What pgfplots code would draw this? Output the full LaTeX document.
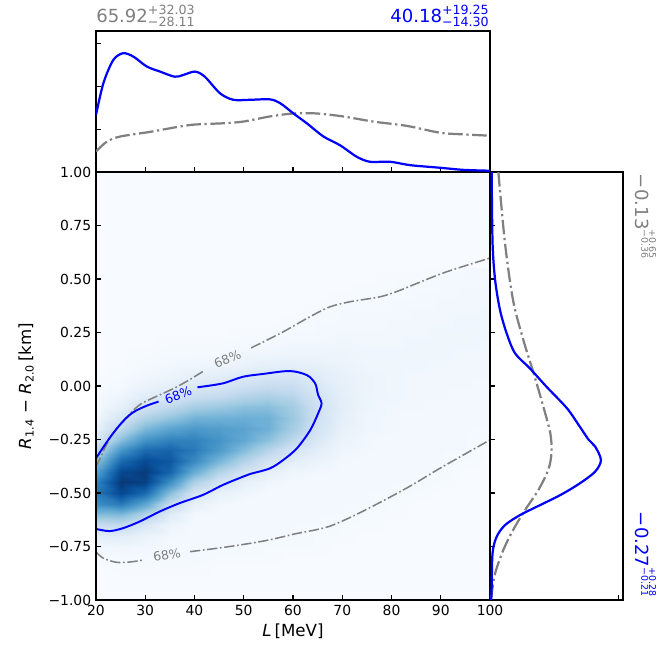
\documentclass[border=0pt]{standalone}
\usepackage{fontspec}
\setmainfont{DejaVu Sans}
\usepackage{pgfplots}
\pgfplotsset{compat=1.18}
\definecolor{mblue}{rgb}{0,0,1}
\definecolor{mgray}{rgb}{0.5,0.5,0.5}
\definecolor{bgblue}{RGB}{247,251,255}
\pgfplotsset{colormap={blues}{rgb255=(247,251,255) rgb255=(222,235,247) rgb255=(198,219,239) rgb255=(158,202,225) rgb255=(107,174,214) rgb255=(66,146,198) rgb255=(33,113,181) rgb255=(8,81,156) rgb255=(8,48,107)}}
\pgfplotsset{
  mpl/.style={scale only axis, axis line style={line width=0.8pt, black},
    tick align=inside, major tick length=3.5pt,
    every tick/.append style={line width=0.8pt, black},
    tick label style={font=\fontsize{10}{12}\selectfont},
    xtick pos=left, ytick pos=left},
}
\tikzset{
  dd/.style={dash pattern=on 7.4pt off 1.9pt on 1.2pt off 1.9pt},
  ddt/.style={dash pattern=on 10.5pt off 2.6pt on 1.6pt off 2.6pt},
}
\newcommand\scr[5]{\rlap{\raisebox{#4}{\fontsize{#3}{#3}\selectfont #1}}\raisebox{#5}{\fontsize{#3}{#3}\selectfont #2}}
\begin{document}
\begin{tikzpicture}
\path[use as bounding box] (-69.12pt,-37.44pt) rectangle (403.92pt,432pt);
% ---------------- main panel ----------------
\begin{axis}[mpl, at={(0,0)}, anchor=south west, width=283.68pt, height=308.16pt,
  xmin=20, xmax=100, ymin=-1, ymax=1, axis on top,
  xtick={20,30,40,50,60,70,80,90,100}, xticklabels={20,30,40,50,60,70,80,90,100},
  ytick={-1,-0.75,-0.5,-0.25,0,0.25,0.5,0.75,1},
  yticklabels={−1.00,−0.75,−0.50,−0.25,0.00,0.25,0.50,0.75,1.00},
  axis background/.style={fill=bgblue},
  colormap name=blues, point meta min=0, point meta max=1,
  xlabel={\textit{L}\,[MeV]},
  xlabel style={font=\fontsize{12}{14}\selectfont, at={(axis description cs:0.5,-0.054)}, anchor=north, inner sep=0pt},
  ylabel={\textit{R}\textsubscript{1.4} − \textit{R}\textsubscript{2.0}\,[km]},
  ylabel style={font=\fontsize{12}{14}\selectfont, at={(axis description cs:-0.157,0.5)}, anchor=south, inner sep=0pt},
]
\addplot[surf, shader=interp, mesh/cols=17, point meta=explicit] coordinates {
(20,-0.9)[0] (25,-0.9)[0] (30,-0.9)[0] (35,-0.9)[0] (40,-0.9)[0] (45,-0.9)[0] (50,-0.9)[0] (55,-0.9)[0] (60,-0.9)[0] (65,-0.9)[0] (70,-0.9)[0] (75,-0.9)[0] (80,-0.9)[0] (85,-0.9)[0] (90,-0.9)[0] (95,-0.9)[0] (100,-0.9)[0]
(20,-0.85)[0] (25,-0.85)[0.01] (30,-0.85)[0.01] (35,-0.85)[0.01] (40,-0.85)[0.01] (45,-0.85)[0] (50,-0.85)[0] (55,-0.85)[0] (60,-0.85)[0] (65,-0.85)[0] (70,-0.85)[0] (75,-0.85)[0] (80,-0.85)[0] (85,-0.85)[0] (90,-0.85)[0] (95,-0.85)[0] (100,-0.85)[0]
(20,-0.8)[0.01] (25,-0.8)[0.02] (30,-0.8)[0.02] (35,-0.8)[0.02] (40,-0.8)[0.02] (45,-0.8)[0.01] (50,-0.8)[0.01] (55,-0.8)[0.01] (60,-0.8)[0] (65,-0.8)[0] (70,-0.8)[0] (75,-0.8)[0] (80,-0.8)[0] (85,-0.8)[0] (90,-0.8)[0] (95,-0.8)[0] (100,-0.8)[0]
(20,-0.75)[0.03] (25,-0.75)[0.04] (30,-0.75)[0.03] (35,-0.75)[0.02] (40,-0.75)[0.02] (45,-0.75)[0.02] (50,-0.75)[0.02] (55,-0.75)[0.01] (60,-0.75)[0.01] (65,-0.75)[0.01] (70,-0.75)[0] (75,-0.75)[0] (80,-0.75)[0] (85,-0.75)[0] (90,-0.75)[0] (95,-0.75)[0] (100,-0.75)[0]
(20,-0.7)[0.10] (25,-0.7)[0.11] (30,-0.7)[0.06] (35,-0.7)[0.03] (40,-0.7)[0.02] (45,-0.7)[0.02] (50,-0.7)[0.02] (55,-0.7)[0.02] (60,-0.7)[0.02] (65,-0.7)[0.01] (70,-0.7)[0.01] (75,-0.7)[0] (80,-0.7)[0] (85,-0.7)[0] (90,-0.7)[0] (95,-0.7)[0] (100,-0.7)[0]
(20,-0.65)[0.23] (25,-0.65)[0.25] (30,-0.65)[0.15] (35,-0.65)[0.05] (40,-0.65)[0.02] (45,-0.65)[0.02] (50,-0.65)[0.02] (55,-0.65)[0.02] (60,-0.65)[0.02] (65,-0.65)[0.02] (70,-0.65)[0.01] (75,-0.65)[0.01] (80,-0.65)[0] (85,-0.65)[0] (90,-0.65)[0] (95,-0.65)[0] (100,-0.65)[0]
(20,-0.6)[0.44] (25,-0.6)[0.46] (30,-0.6)[0.32] (35,-0.6)[0.12] (40,-0.6)[0.03] (45,-0.6)[0.02] (50,-0.6)[0.02] (55,-0.6)[0.02] (60,-0.6)[0.02] (65,-0.6)[0.02] (70,-0.6)[0.02] (75,-0.6)[0.01] (80,-0.6)[0.01] (85,-0.6)[0] (90,-0.6)[0] (95,-0.6)[0] (100,-0.6)[0]
(20,-0.55)[0.64] (25,-0.55)[0.72] (30,-0.55)[0.54] (35,-0.55)[0.24] (40,-0.55)[0.08] (45,-0.55)[0.03] (50,-0.55)[0.02] (55,-0.55)[0.02] (60,-0.55)[0.02] (65,-0.55)[0.02] (70,-0.55)[0.02] (75,-0.55)[0.02] (80,-0.55)[0.01] (85,-0.55)[0] (90,-0.55)[0] (95,-0.55)[0] (100,-0.55)[0]
(20,-0.5)[0.72] (25,-0.5)[0.91] (30,-0.5)[0.78] (35,-0.5)[0.43] (40,-0.5)[0.18] (45,-0.5)[0.08] (50,-0.5)[0.04] (55,-0.5)[0.02] (60,-0.5)[0.02] (65,-0.5)[0.02] (70,-0.5)[0.02] (75,-0.5)[0.02] (80,-0.5)[0.02] (85,-0.5)[0.01] (90,-0.5)[0] (95,-0.5)[0] (100,-0.5)[0]
(20,-0.45)[0.68] (25,-0.45)[0.97] (30,-0.45)[0.94] (35,-0.45)[0.64] (40,-0.45)[0.33] (45,-0.45)[0.18] (50,-0.45)[0.09] (55,-0.45)[0.04] (60,-0.45)[0.02] (65,-0.45)[0.02] (70,-0.45)[0.02] (75,-0.45)[0.02] (80,-0.45)[0.02] (85,-0.45)[0.02] (90,-0.45)[0.01] (95,-0.45)[0] (100,-0.45)[0]
(20,-0.4)[0.56] (25,-0.4)[0.91] (30,-0.4)[0.96] (35,-0.4)[0.80] (40,-0.4)[0.51] (45,-0.4)[0.31] (50,-0.4)[0.18] (55,-0.4)[0.09] (60,-0.4)[0.04] (65,-0.4)[0.03] (70,-0.4)[0.02] (75,-0.4)[0.02] (80,-0.4)[0.02] (85,-0.4)[0.02] (90,-0.4)[0.02] (95,-0.4)[0] (100,-0.4)[0]
(20,-0.35)[0.41] (25,-0.35)[0.78] (30,-0.35)[0.90] (35,-0.35)[0.85] (40,-0.35)[0.66] (45,-0.35)[0.47] (50,-0.35)[0.31] (55,-0.35)[0.18] (60,-0.35)[0.10] (65,-0.35)[0.06] (70,-0.35)[0.03] (75,-0.35)[0.02] (80,-0.35)[0.02] (85,-0.35)[0.02] (90,-0.35)[0.02] (95,-0.35)[0.01] (100,-0.35)[0]
(20,-0.3)[0.26] (25,-0.3)[0.61] (30,-0.3)[0.78] (35,-0.3)[0.80] (40,-0.3)[0.72] (45,-0.3)[0.59] (50,-0.3)[0.44] (55,-0.3)[0.30] (60,-0.3)[0.17] (65,-0.3)[0.10] (70,-0.3)[0.04] (75,-0.3)[0.03] (80,-0.3)[0.02] (85,-0.3)[0.02] (90,-0.3)[0.02] (95,-0.3)[0.02] (100,-0.3)[0]
(20,-0.25)[0.15] (25,-0.25)[0.43] (30,-0.25)[0.62] (35,-0.25)[0.69] (40,-0.25)[0.69] (45,-0.25)[0.62] (50,-0.25)[0.53] (55,-0.25)[0.42] (60,-0.25)[0.27] (65,-0.25)[0.14] (70,-0.25)[0.06] (75,-0.25)[0.03] (80,-0.25)[0.02] (85,-0.25)[0.02] (90,-0.25)[0.02] (95,-0.25)[0.02] (100,-0.25)[0.01]
(20,-0.2)[0.07] (25,-0.2)[0.28] (30,-0.2)[0.46] (35,-0.2)[0.55] (40,-0.2)[0.60] (45,-0.2)[0.58] (50,-0.2)[0.55] (55,-0.2)[0.49] (60,-0.2)[0.35] (65,-0.2)[0.18] (70,-0.2)[0.08] (75,-0.2)[0.04] (80,-0.2)[0.03] (85,-0.2)[0.02] (90,-0.2)[0.02] (95,-0.2)[0.02] (100,-0.2)[0.02]
(20,-0.15)[0.03] (25,-0.15)[0.17] (30,-0.15)[0.32] (35,-0.15)[0.40] (40,-0.15)[0.48] (45,-0.15)[0.49] (50,-0.15)[0.50] (55,-0.15)[0.49] (60,-0.15)[0.38] (65,-0.15)[0.20] (70,-0.15)[0.09] (75,-0.15)[0.04] (80,-0.15)[0.03] (85,-0.15)[0.02] (90,-0.15)[0.02] (95,-0.15)[0.02] (100,-0.15)[0.02]
(20,-0.1)[0.01] (25,-0.1)[0.09] (30,-0.1)[0.20] (35,-0.1)[0.27] (40,-0.1)[0.35] (45,-0.1)[0.38] (50,-0.1)[0.42] (55,-0.1)[0.43] (60,-0.1)[0.36] (65,-0.1)[0.20] (70,-0.1)[0.10] (75,-0.1)[0.05] (80,-0.1)[0.03] (85,-0.1)[0.03] (90,-0.1)[0.02] (95,-0.1)[0.02] (100,-0.1)[0.02]
(20,-0.05)[0.01] (25,-0.05)[0.05] (30,-0.05)[0.12] (35,-0.05)[0.16] (40,-0.05)[0.23] (45,-0.05)[0.26] (50,-0.05)[0.31] (55,-0.05)[0.34] (60,-0.05)[0.30] (65,-0.05)[0.18] (70,-0.05)[0.10] (75,-0.05)[0.05] (80,-0.05)[0.04] (85,-0.05)[0.03] (90,-0.05)[0.03] (95,-0.05)[0.02] (100,-0.05)[0.02]
(20,0)[0] (25,0)[0.02] (30,0)[0.06] (35,0)[0.09] (40,0)[0.14] (45,0)[0.17] (50,0)[0.21] (55,0)[0.24] (60,0)[0.23] (65,0)[0.15] (70,0)[0.09] (75,0)[0.05] (80,0)[0.04] (85,0)[0.03] (90,0)[0.03] (95,0)[0.03] (100,0)[0.02]
(20,0.05)[0] (25,0.05)[0.01] (30,0.05)[0.03] (35,0.05)[0.05] (40,0.05)[0.08] (45,0.05)[0.10] (50,0.05)[0.13] (55,0.05)[0.16] (60,0.05)[0.16] (65,0.05)[0.12] (70,0.05)[0.08] (75,0.05)[0.05] (80,0.05)[0.04] (85,0.05)[0.03] (90,0.05)[0.03] (95,0.05)[0.03] (100,0.05)[0.03]
(20,0.1)[0] (25,0.1)[0] (30,0.1)[0.02] (35,0.1)[0.03] (40,0.1)[0.04] (45,0.1)[0.05] (50,0.1)[0.07] (55,0.1)[0.09] (60,0.1)[0.10] (65,0.1)[0.08] (70,0.1)[0.06] (75,0.1)[0.04] (80,0.1)[0.04] (85,0.1)[0.04] (90,0.1)[0.03] (95,0.1)[0.03] (100,0.1)[0.03]
(20,0.15)[0] (25,0.15)[0] (30,0.15)[0.01] (35,0.15)[0.02] (40,0.15)[0.02] (45,0.15)[0.02] (50,0.15)[0.04] (55,0.15)[0.04] (60,0.15)[0.05] (65,0.15)[0.05] (70,0.15)[0.05] (75,0.15)[0.04] (80,0.15)[0.04] (85,0.15)[0.04] (90,0.15)[0.04] (95,0.15)[0.03] (100,0.15)[0.03]
(20,0.2)[0] (25,0.2)[0] (30,0.2)[0] (35,0.2)[0.01] (40,0.2)[0.01] (45,0.2)[0.01] (50,0.2)[0.02] (55,0.2)[0.02] (60,0.2)[0.03] (65,0.2)[0.03] (70,0.2)[0.04] (75,0.2)[0.03] (80,0.2)[0.03] (85,0.2)[0.04] (90,0.2)[0.04] (95,0.2)[0.04] (100,0.2)[0.03]
(20,0.25)[0] (25,0.25)[0] (30,0.25)[0] (35,0.25)[0] (40,0.25)[0] (45,0.25)[0] (50,0.25)[0.01] (55,0.25)[0.01] (60,0.25)[0.02] (65,0.25)[0.02] (70,0.25)[0.03] (75,0.25)[0.03] (80,0.25)[0.03] (85,0.25)[0.03] (90,0.25)[0.04] (95,0.25)[0.04] (100,0.25)[0.04]
(20,0.3)[0] (25,0.3)[0] (30,0.3)[0] (35,0.3)[0] (40,0.3)[0] (45,0.3)[0] (50,0.3)[0] (55,0.3)[0] (60,0.3)[0.01] (65,0.3)[0.02] (70,0.3)[0.02] (75,0.3)[0.02] (80,0.3)[0.03] (85,0.3)[0.03] (90,0.3)[0.03] (95,0.3)[0.04] (100,0.3)[0.04]
(20,0.35)[0] (25,0.35)[0] (30,0.35)[0] (35,0.35)[0] (40,0.35)[0] (45,0.35)[0] (50,0.35)[0] (55,0.35)[0] (60,0.35)[0] (65,0.35)[0.01] (70,0.35)[0.02] (75,0.35)[0.02] (80,0.35)[0.02] (85,0.35)[0.03] (90,0.35)[0.03] (95,0.35)[0.03] (100,0.35)[0.04]
(20,0.4)[0] (25,0.4)[0] (30,0.4)[0] (35,0.4)[0] (40,0.4)[0] (45,0.4)[0] (50,0.4)[0] (55,0.4)[0] (60,0.4)[0] (65,0.4)[0] (70,0.4)[0.01] (75,0.4)[0.01] (80,0.4)[0.02] (85,0.4)[0.02] (90,0.4)[0.03] (95,0.4)[0.03] (100,0.4)[0.03]
(20,0.45)[0] (25,0.45)[0] (30,0.45)[0] (35,0.45)[0] (40,0.45)[0] (45,0.45)[0] (50,0.45)[0] (55,0.45)[0] (60,0.45)[0] (65,0.45)[0] (70,0.45)[0] (75,0.45)[0.01] (80,0.45)[0.01] (85,0.45)[0.02] (90,0.45)[0.02] (95,0.45)[0.03] (100,0.45)[0.03]
(20,0.5)[0] (25,0.5)[0] (30,0.5)[0] (35,0.5)[0] (40,0.5)[0] (45,0.5)[0] (50,0.5)[0] (55,0.5)[0] (60,0.5)[0] (65,0.5)[0] (70,0.5)[0] (75,0.5)[0] (80,0.5)[0.01] (85,0.5)[0.01] (90,0.5)[0.02] (95,0.5)[0.02] (100,0.5)[0.03]
(20,0.55)[0] (25,0.55)[0] (30,0.55)[0] (35,0.55)[0] (40,0.55)[0] (45,0.55)[0] (50,0.55)[0] (55,0.55)[0] (60,0.55)[0] (65,0.55)[0] (70,0.55)[0] (75,0.55)[0] (80,0.55)[0] (85,0.55)[0] (90,0.55)[0.01] (95,0.55)[0.02] (100,0.55)[0.02]
};
% gray 68% contour (upper branch)
\addplot[mgray, line width=1.1pt, dd, smooth, tension=0.5] coordinates {
(20,-0.377) (21,-0.33) (22,-0.28) (23.5,-0.22) (25.4,-0.167) (28.8,-0.089) (32.9,-0.042) (35.9,-0.01) (38.9,0.028) (41.7,0.068)};
\addplot[mgray, line width=1.1pt, dd, smooth, tension=0.5] coordinates {
(51.5,0.178) (57.9,0.252) (63.3,0.322) (67.4,0.369) (71.4,0.393) (77.5,0.416) (80.9,0.44) (85,0.478) (91.1,0.533) (100,0.598)};
% gray 68% contour (lower branch)
\addplot[mgray, line width=1.1pt, dd, smooth, tension=0.5] coordinates {
(20,-0.775) (21.5,-0.805) (24.2,-0.824) (27,-0.822) (29.6,-0.813)};
\addplot[mgray, line width=1.1pt, dd, smooth, tension=0.5] coordinates {
(39.1,-0.774) (44,-0.76) (49.2,-0.743) (55,-0.72) (60.6,-0.69) (64,-0.675) (67.5,-0.655) (72,-0.61) (78,-0.54) (84,-0.465) (89.2,-0.393) (94,-0.33) (100,-0.252)};
% blue 68% contour
\addplot[mblue, line width=1.4pt, smooth, tension=0.5] coordinates {
(20,-0.338) (22.7,-0.245) (25.1,-0.175) (27.4,-0.125) (30.2,-0.093) (32.7,-0.073)};
\addplot[mblue, line width=1.4pt, smooth, tension=0.5] coordinates {
(40.6,-0.006) (45.7,0.012) (49.8,0.043) (53.8,0.056) (59.3,0.07) (62.8,0.051) (64.5,0.012) (65.1,-0.042) (65.8,-0.081) (65.1,-0.128) (63.5,-0.206) (60.8,-0.291) (58,-0.346) (55.3,-0.385) (51.3,-0.411) (49.8,-0.424) (45.7,-0.463) (41.7,-0.509) (36.9,-0.548) (32.9,-0.587) (28.8,-0.634) (25.4,-0.665) (22.7,-0.678) (20,-0.668)};
\node[text=mblue, rotate=20, inner sep=0pt, font=\fontsize{9}{9}\selectfont] at (axis cs:36.7,-0.043) {68\%};
\node[text=mgray, rotate=22, inner sep=0pt, font=\fontsize{9}{9}\selectfont] at (axis cs:46.7,0.127) {68\%};
\node[text=mgray, rotate=10, inner sep=0pt, font=\fontsize{9}{9}\selectfont] at (axis cs:34.4,-0.79) {68\%};
\end{axis}
% ---------------- top marginal ----------------
\begin{axis}[mpl, at={(0,308.16pt)}, anchor=south west, width=283.68pt, height=101.52pt,
  xmin=20, xmax=100, ymin=0, ymax=3.30,
  xtick={20,30,40,50,60,70,80,90,100}, xticklabels={},
  ytick={0,1,2,3}, yticklabels={}]
\addplot[mgray, line width=1.6pt, ddt, smooth, tension=0.5] coordinates {
(20,0.48) (22.2,0.71) (24.9,0.83) (31,0.94) (39.1,1.10) (45.8,1.14) (49.9,1.18) (55.3,1.30) (60.1,1.37) (64.8,1.37) (70.2,1.30) (76.3,1.18) (83.1,1.08) (89.8,0.92) (94.6,0.88) (100,0.85)};
\addplot[mblue, line width=1.6pt, smooth, tension=0.5] coordinates {
(20,1.335) (21.5,2.08) (23.5,2.62) (25.5,2.78) (27.6,2.70) (30.3,2.47) (33,2.35) (36,2.23) (37.7,2.27) (40.1,2.35) (42.1,2.23) (45.2,1.84) (47.9,1.69) (51.3,1.69) (55.3,1.70) (57.4,1.61) (60.1,1.37) (62.8,1.14) (66.2,0.83) (69.5,0.63) (72.9,0.36) (75.6,0.24) (79.7,0.24) (83.8,0.16) (89.8,0.10) (94.6,0.05) (100,0.03)};
\end{axis}
% ---------------- right marginal ----------------
\begin{axis}[mpl, at={(283.68pt,0)}, anchor=south west, width=95.76pt, height=308.16pt,
  xmin=0, xmax=1.037, ymin=-1, ymax=1,
  axis background/.style={fill=white},
  xtick={0,1}, xticklabels={},
  ytick={-1,-0.75,-0.5,-0.25,0,0.25,0.5,0.75,1}, yticklabels={}]
\addplot[mgray, line width=1.6pt, ddt, smooth, tension=0.5] coordinates {
(0.065,1.0) (0.117,0.667) (0.18,0.40) (0.26,0.215) (0.34,0.06) (0.416,-0.097) (0.47,-0.22) (0.48,-0.31) (0.455,-0.39) (0.377,-0.486) (0.273,-0.58) (0.18,-0.673) (0.104,-0.766) (0.04,-0.875) (0.013,-0.97) (0.005,-1.0)};
\addplot[mblue, line width=1.6pt, smooth, tension=0.5] coordinates {
(0.013,1.0) (0.02,0.667) (0.04,0.495) (0.078,0.355) (0.13,0.246) (0.195,0.153) (0.31,0.083) (0.44,-0.003) (0.60,-0.104) (0.70,-0.19) (0.77,-0.252) (0.82,-0.283) (0.865,-0.346) (0.82,-0.40) (0.70,-0.455) (0.55,-0.509) (0.365,-0.564) (0.234,-0.603) (0.117,-0.65) (0.052,-0.704) (0.02,-0.78) (0.013,-0.94) (0.01,-1.0)};
\end{axis}
% ---------------- annotations ----------------
\node[anchor=base west, inner sep=0pt, text=mgray, font=\fontsize{13}{13}\selectfont] at (0pt,415.7pt) {65.92\scr{+32.03}{−28.11}{9.1}{5.5pt}{-2.9pt}};
\node[anchor=base east, inner sep=0pt, text=mblue, font=\fontsize{13}{13}\selectfont] at (283pt,415.7pt) {40.18\scr{+19.25}{−14.30}{9.1}{5.5pt}{-2.9pt}};
\node[rotate=-90, anchor=base west, inner sep=0pt, text=mgray, font=\fontsize{13}{13}\selectfont] at (388.1pt,307.2pt) {−\hspace{0.04em}0.13\scr{+0.65}{−0.36}{6.8}{10.2pt}{4.6pt}};
\node[rotate=-90, anchor=base east, inner sep=0pt, text=mblue, font=\fontsize{13}{13}\selectfont] at (388.1pt,2.5pt) {−\hspace{0.04em}0.27\scr{+0.28}{−0.21}{6.8}{10.2pt}{4.6pt}};
\end{tikzpicture}
\end{document}
